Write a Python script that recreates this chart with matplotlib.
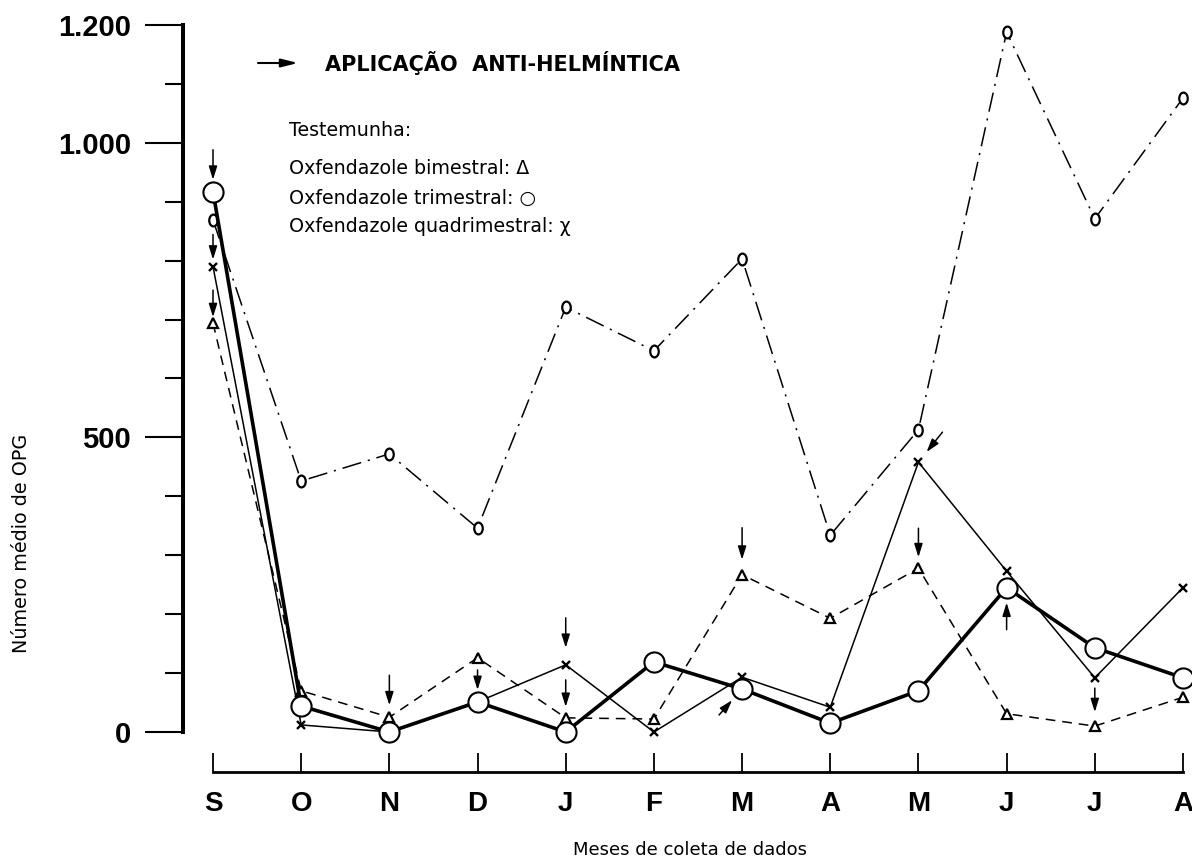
import matplotlib
matplotlib.use("Agg")
import matplotlib.pyplot as plt
from matplotlib.path import Path
from matplotlib.ticker import FixedLocator
import numpy as np

plt.rcParams['lines.scale_dashes'] = False
plt.rcParams['font.family'] = ['DejaVu Sans']

# ---------------- data ----------------
months = ['S', 'O', 'N', 'D', 'J', 'F', 'M', 'A', 'M', 'J', 'J', 'A']
testemunha = [869, 426, 472, 346, 721, 647, 803, 334, 513, 1188, 871, 1076]
bimestral = [694, 70, 25, 126, 24, 22, 267, 193, 278, 31, 10, 59]
trimestral = [917, 44, 0, 51, 0, 119, 73, 15, 70, 245, 143, 92]
quadrimestral = [790, 12, 0, 51, 114, 0, 93, 42, 458, 273, 92, 245]

y_major = [0, 500, 1000, 1200]
y_major_labels = ['0', '500', '1.000', '1.200']
y_minor = [100, 200, 300, 400, 600, 700, 800, 900, 1100]

# anthelmintic application arrows: (series, month index)
applications = [('trimestral', 0), ('quadrimestral', 0), ('bimestral', 0),
                ('bimestral', 2), ('trimestral', 3), ('quadrimestral', 4),
                ('bimestral', 4), ('bimestral', 6), ('trimestral', 6),
                ('bimestral', 8), ('quadrimestral', 8), ('trimestral', 9),
                ('bimestral', 10)]
# arrow geometry (tail offset in px, y up; gap before point in px)
arrow_geom = [((0, 42), 12), ((0, 32), 7), ((0, 33), 6),
              ((0, 42), 12), ((0, 32), 12), ((0, 47), 17),
              ((0, 38), 11), ((0, 47), 15), ((-23, -26), 15),
              ((0, 40), 11), ((24, 30), 13), ((0, -42), 15),
              ((0, 38), 14)]

series = {'testemunha': testemunha, 'bimestral': bimestral,
          'trimestral': trimestral, 'quadrimestral': quadrimestral}

# ---------------- figure ----------------
W, H = 1192, 863
fig = plt.figure(figsize=(W / 100, H / 100), dpi=100)
PT = 0.72  # points per pixel

ax = fig.add_axes([183 / W, (H - 732) / H, 1009 / W, (732 - 25) / H])
ax.set_xlim((183 - 213) / 88.18, (1192 - 213) / 88.18)
ax.set_ylim(0, 1200)
ax.patch.set_alpha(0)

x = np.arange(len(months))

# ellipse marker like a small letter "o"
circ = Path.unit_circle()
oval = Path(circ.vertices * np.array([0.72, 1.0]), circ.codes)

ax.plot(x, testemunha, color='black', lw=1.1, dashes=(14, 5, 1.5, 5),
        marker=oval, ms=8.5, mfc='white', mec='black', mew=1.6, zorder=3,
        clip_on=False)
ax.plot(x, bimestral, color='black', lw=1.1, dashes=(7, 5),
        marker='^', ms=7.5, mfc='white', mec='black', mew=1.6, zorder=4,
        clip_on=False)
ax.plot(x, quadrimestral, color='black', lw=1.1, ls='-',
        marker='x', ms=6, mec='black', mew=1.7, zorder=4, clip_on=False)
ax.plot(x, trimestral, color='black', lw=2.6, ls='-',
        marker='o', ms=14.5, mfc='white', mec='black', mew=1.5, zorder=5,
        clip_on=False)

for (name, i), ((dx, dy), gap) in zip(applications, arrow_geom):
    v = series[name][i]
    ax.annotate('', xy=(i, v), xycoords='data',
                xytext=(dx * PT, dy * PT), textcoords='offset points',
                arrowprops=dict(arrowstyle='-|>,head_length=0.8,head_width=0.25',
                                mutation_scale=10, color='black', lw=1.1,
                                shrinkA=0, shrinkB=gap * PT),
                zorder=6, annotation_clip=False)

# ---------------- axes styling ----------------
for s in ['top', 'right']:
    ax.spines[s].set_visible(False)
ax.spines['left'].set_linewidth(2.9)
ax.spines['left'].set_bounds(0, 1200)
ax.spines['bottom'].set_position(('outward', 40 * PT))
ax.spines['bottom'].set_bounds(0, 11)
ax.spines['bottom'].set_linewidth(2.0)

ax.set_xticks(x)
ax.set_xticklabels(months, fontfamily='Liberation Sans', fontweight='bold',
                   fontsize=20)
ax.tick_params(axis='x', direction='in', length=19 * PT, width=1.3, pad=14)

ax.yaxis.set_major_locator(FixedLocator(y_major))
ax.yaxis.set_minor_locator(FixedLocator(y_minor))
ax.set_yticklabels(y_major_labels, fontfamily='Liberation Sans',
                   fontweight='bold', fontsize=21)
ax.tick_params(axis='y', which='major', direction='out', length=38 * PT,
               width=1.5, pad=10)
ax.tick_params(axis='y', which='minor', direction='out', length=18 * PT,
               width=1.5)

# ---------------- texts ----------------
def ft(px, py, s, **kw):
    fig.text(px / W, 1 - py / H, s, **kw)

fig.add_artist(plt.Annotation('', xy=(298 / W, 1 - 63 / H), xycoords='figure fraction',
                              xytext=(258 / W, 1 - 63 / H), textcoords='figure fraction',
                              arrowprops=dict(arrowstyle='-|>,head_length=1.0,head_width=0.25',
                                              mutation_scale=10, color='black', lw=1.5,
                                              shrinkA=0, shrinkB=0)))
ft(325, 63, 'APLICAÇÃO  ANTI-HELMÍNTICA', fontsize=15, fontweight='bold',
   va='center', ha='left')
ft(289, 130, 'Testemunha:', fontsize=13.7, va='center', ha='left')
ft(289, 169, 'Oxfendazole bimestral: Δ', fontsize=13.7, va='center', ha='left')
ft(289, 198, 'Oxfendazole trimestral: ○', fontsize=13.7, va='center', ha='left')
ft(289, 226, 'Oxfendazole quadrimestral: χ', fontsize=13.7, va='center', ha='left')

ft(22, 543, 'Número médio de OPG', fontsize=13.8, rotation=90,
   va='center', ha='center')
ft(690, 850, 'Meses de coleta de dados', fontsize=13, va='center', ha='center')

fig.savefig('out.png', dpi=100)
